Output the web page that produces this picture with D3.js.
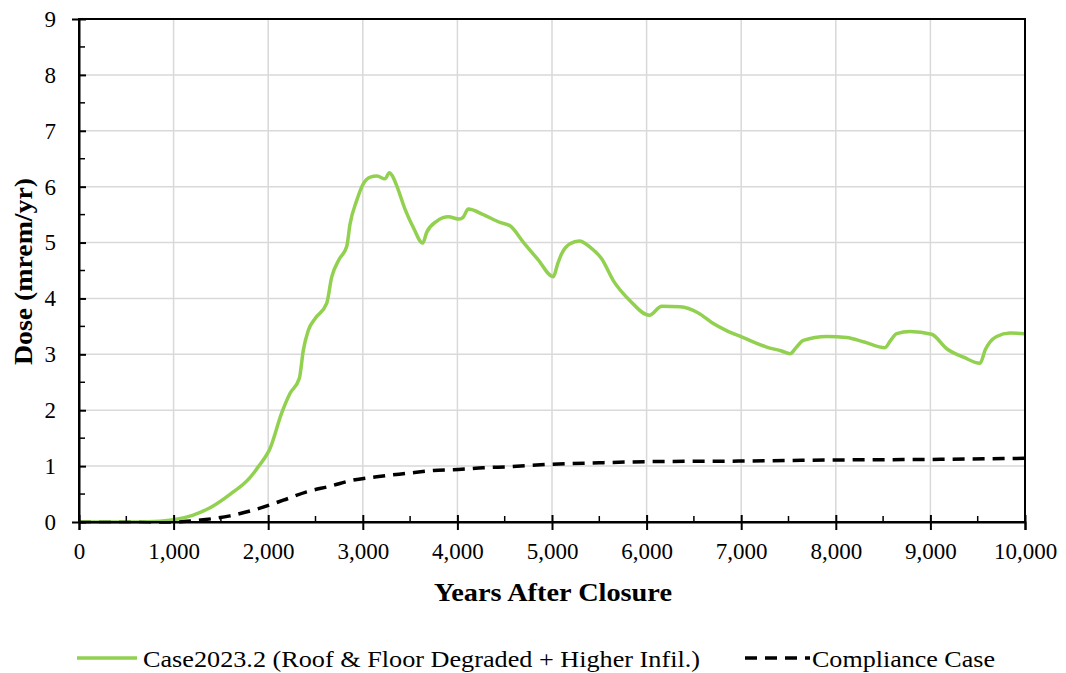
<!DOCTYPE html>
<html><head><meta charset="utf-8">
<script src="https://cdn.jsdelivr.net/npm/d3@7"></script>
<style>body{margin:0;background:#fff;} text{font-family:"Times New Roman","Liberation Serif","DejaVu Serif",serif !important;fill:#000;}</style>
</head><body><svg id="c" width="1066" height="673"></svg>
<script>
const caseYears = [0,500,800,1000,1200,1400,1600,1800,1900,2000,2020,2140,2230,2329,2371,2424,2500,2618,2671,2750,2830,2865,2935,3005,3080,3150,3235,3281,3310,3358,3446,3534,3633,3675,3780,3904,4020,4060,4115,4274,4450,4556,4700,4850,5014,5060,5102,5190,5289,5402,5525,5648,5825,6029,6160,6353,6547,6705,6850,7022,7269,7428,7516,7580,7657,7904,8115,8300,8520,8580,8644,8784,9013,9172,9350,9524,9580,9630,9700,9841,10000];
const caseDose  = [0,0,0.01,0.04,0.12,0.27,0.5,0.78,1.0,1.25,1.32,1.94,2.30,2.57,3.07,3.43,3.65,3.91,4.38,4.7,4.93,5.33,5.75,6.05,6.17,6.19,6.14,6.25,6.2,6.02,5.60,5.27,4.99,5.18,5.38,5.46,5.42,5.45,5.6,5.5,5.36,5.30,5.0,4.7,4.39,4.62,4.80,4.98,5.03,4.92,4.71,4.32,3.96,3.70,3.86,3.85,3.74,3.55,3.42,3.30,3.13,3.06,3.01,3.12,3.25,3.32,3.30,3.22,3.12,3.25,3.37,3.41,3.36,3.10,2.95,2.84,3.08,3.22,3.32,3.38,3.37];
const compYears = [0,500,1000,1100,1314,1596,1878,2160,2407,2653,2900,3147,3464,3745,4010,4274,4556,4944,5500,6000,7000,8000,9000,10000];
const compDose  = [0,0,0,0.01,0.04,0.11,0.23,0.39,0.54,0.64,0.75,0.81,0.87,0.92,0.94,0.97,0.99,1.03,1.06,1.08,1.09,1.11,1.12,1.14];
const xTicks = [0,1000,2000,3000,4000,5000,6000,7000,8000,9000,10000];
const yTicks = [0,1,2,3,4,5,6,7,8,9];
const seriesNames = ["Case2023.2 (Roof & Floor Degraded + Higher Infil.)","Compliance Case"];

const svg = d3.select("#c");
const L=79,R=1025,T=19,B=522;
const x = d3.scaleLinear().domain([0,10000]).range([L,R]);
const y = d3.scaleLinear().domain([0,9]).range([B,T]);

svg.append("g").selectAll("line").data(xTicks.slice(1)).join("line")
  .attr("x1",d=>x(d)).attr("x2",d=>x(d)).attr("y1",T).attr("y2",B)
  .attr("stroke","#d9d9d9").attr("stroke-width",1.5);
svg.append("g").selectAll("line").data(yTicks.slice(1)).join("line")
  .attr("x1",L).attr("x2",R).attr("y1",d=>y(d)).attr("y2",d=>y(d))
  .attr("stroke","#d9d9d9").attr("stroke-width",1.5);

const line = d3.line().x(d=>x(d[0])).y(d=>y(d[1])).curve(d3.curveMonotoneX);
svg.append("path").datum(compYears.map((v,i)=>[v,compDose[i]]))
  .attr("d",line).attr("fill","none").attr("stroke","#000").attr("stroke-width",3.5)
  .attr("stroke-dasharray","12,8");
svg.append("path").datum(caseYears.map((v,i)=>[v,caseDose[i]]))
  .attr("d",line).attr("fill","none").attr("stroke","#92D050").attr("stroke-width",3.5)
  .attr("stroke-linejoin","round");

svg.append("rect").attr("x",L).attr("y",T).attr("width",R-L).attr("height",B-T)
  .attr("fill","none").attr("stroke","#000").attr("stroke-width",2);

const fmt = d3.format(",");
const xa = svg.append("g").attr("transform",`translate(0,${B})`)
  .call(d3.axisBottom(x).tickValues(xTicks).tickFormat(fmt).tickSize(8).tickPadding(13));
xa.attr("font-family",null);
xa.select(".domain").attr("stroke","#000").attr("stroke-width",2);
xa.selectAll(".tick line").attr("stroke-width",2).attr("y1",-7);
xa.selectAll("text").attr("font-size","23px");
svg.append("g").selectAll("line").data(d3.range(500,10000,1000)).join("line")
  .attr("x1",d=>x(d)).attr("x2",d=>x(d)).attr("y1",B).attr("y2",B-6).attr("stroke","#000").attr("stroke-width",1.5);

const ya = svg.append("g").attr("transform",`translate(${L},0)`)
  .call(d3.axisLeft(y).tickValues(yTicks).tickSize(7).tickPadding(16));
ya.attr("font-family",null);
ya.select(".domain").attr("stroke","#000").attr("stroke-width",2);
ya.selectAll(".tick line").attr("stroke-width",2).attr("x2",7);
ya.selectAll("text").attr("font-size","23px");
svg.append("g").selectAll("line").data(d3.range(0.5,9,1)).join("line")
  .attr("x1",L).attr("x2",L+6).attr("y1",d=>y(d)).attr("y2",d=>y(d)).attr("stroke","#000").attr("stroke-width",1.5);

svg.append("text").attr("x",553).attr("y",601).attr("text-anchor","middle")
  .attr("font-size","25px").attr("font-weight","bold")
  .attr("textLength",238).attr("lengthAdjust","spacingAndGlyphs").text("Years After Closure");
svg.append("text").attr("transform",`translate(32,271.5) rotate(-90)`).attr("text-anchor","middle")
  .attr("font-size","25px").attr("font-weight","bold")
  .attr("textLength",187).attr("lengthAdjust","spacingAndGlyphs").text("Dose (mrem/yr)");

const lg = svg.append("g");
lg.append("line").attr("x1",77).attr("x2",137).attr("y1",658).attr("y2",658).attr("stroke","#92D050").attr("stroke-width",3.5);
lg.append("text").attr("x",143).attr("y",667).attr("font-size","24px")
  .attr("textLength",557).attr("lengthAdjust","spacingAndGlyphs").text(seriesNames[0]);
lg.append("line").attr("x1",745).attr("x2",810).attr("y1",658).attr("y2",658).attr("stroke","#000").attr("stroke-width",3.5).attr("stroke-dasharray","12,8");
lg.append("text").attr("x",812).attr("y",667).attr("font-size","24px")
  .attr("textLength",183).attr("lengthAdjust","spacingAndGlyphs").text(seriesNames[1]);
</script></body></html>
